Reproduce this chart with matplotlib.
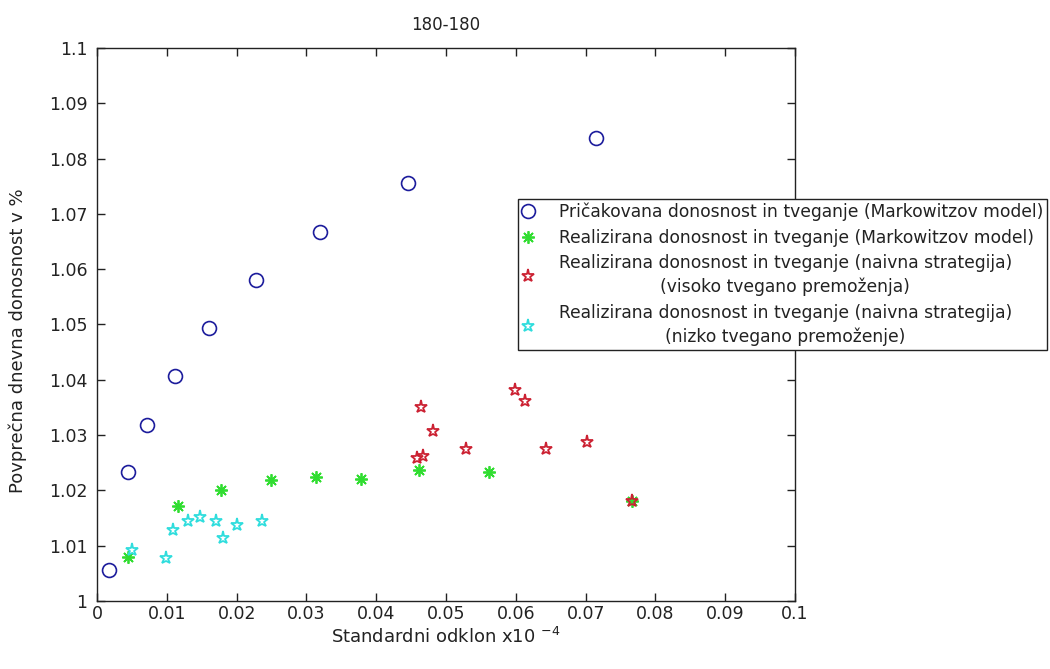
import matplotlib
matplotlib.use("Agg")
import matplotlib.pyplot as plt

plt.rcParams['font.family'] = ['DejaVu Sans']

# Expected return / risk (Markowitz model)
exp_x = [0.0017, 0.0045, 0.0072, 0.0112, 0.0161, 0.0228, 0.0319, 0.0446, 0.0715]
exp_y = [1.0056, 1.0233, 1.0319, 1.0407, 1.0493, 1.0580, 1.0667, 1.0755, 1.0838]

# Realised return / risk (Markowitz model)
real_x = [0.0044, 0.0116, 0.0178, 0.0249, 0.0314, 0.0378, 0.0461, 0.0562, 0.0766]
real_y = [1.0079, 1.0171, 1.0200, 1.0218, 1.0224, 1.0221, 1.0237, 1.0233, 1.0180]

# Naive strategy, high-risk assets
high_x = [0.0464, 0.0482, 0.0459, 0.0467, 0.0529, 0.0599, 0.0613, 0.0643, 0.0702, 0.0767]
high_y = [1.0351, 1.0308, 1.0259, 1.0262, 1.0275, 1.0382, 1.0362, 1.0275, 1.0288, 1.0180]

# Naive strategy, low-risk assets
low_x = [0.0050, 0.0099, 0.0109, 0.0130, 0.0148, 0.0171, 0.0180, 0.0201, 0.0236]
low_y = [1.0092, 1.0078, 1.0128, 1.0145, 1.0151, 1.0145, 1.0113, 1.0137, 1.0144]

labels = [
    "Pričakovana donosnost in tveganje (Markowitzov model)",
    "Realizirana donosnost in tveganje (Markowitzov model)",
    "Realizirana donosnost in tveganje (naivna strategija)\n(visoko tvegano premoženja)",
    "Realizirana donosnost in tveganje (naivna strategija)\n(nizko tvegano premoženje)",
]

x_ticks = [0, 0.01, 0.02, 0.03, 0.04, 0.05, 0.06, 0.07, 0.08, 0.09, 0.1]
x_ticklabels = ["0", "0.01", "0.02", "0.03", "0.04", "0.05", "0.06", "0.07", "0.08", "0.09", "0.1"]
y_ticks = [1, 1.01, 1.02, 1.03, 1.04, 1.05, 1.06, 1.07, 1.08, 1.09, 1.1]
y_ticklabels = ["1", "1.01", "1.02", "1.03", "1.04", "1.05", "1.06", "1.07", "1.08", "1.09", "1.1"]

fig = plt.figure(figsize=(10.5, 6.69), dpi=100)
ax = fig.add_axes([0.0924, 0.1017, 0.6648, 0.8266])

ax.plot(exp_x, exp_y, linestyle='none', marker='o', markersize=10,
        markerfacecolor='none', markeredgecolor='#1c1c9c', markeredgewidth=1.2,
        label=labels[0])
ax.plot(real_x, real_y, linestyle='none', marker=(8, 2, 0), markersize=9,
        markeredgecolor='#30dd30', markeredgewidth=1.3, color='#30dd30',
        label=labels[1])
ax.plot(high_x, high_y, linestyle='none', marker='*', markersize=9.5,
        markerfacecolor='none', markeredgecolor='#cc2233', markeredgewidth=1.3,
        label=labels[2])
ax.plot(low_x, low_y, linestyle='none', marker='*', markersize=9.5,
        markerfacecolor='none', markeredgecolor='#30dddd', markeredgewidth=1.3,
        label=labels[3])

ax.set_xlim(0, 0.1)
ax.set_ylim(1, 1.1)
ax.set_xticks(x_ticks)
ax.set_xticklabels(x_ticklabels)
ax.set_yticks(y_ticks)
ax.set_yticklabels(y_ticklabels)
ax.tick_params(direction='in', top=True, right=True, length=6, width=1,
               labelsize=12.5, colors='#222222')
ax.tick_params(axis='x', pad=3)
ax.tick_params(axis='y', pad=7)
for sp in ax.spines.values():
    sp.set_linewidth(1.0)
    sp.set_color('#222222')

ax.set_title("180-180", fontsize=12, pad=13, color='#222222')
ax.set_xlabel("Standardni odklon x10 $^{-4}$", fontsize=13, labelpad=3, color='#222222')
ylab = ax.set_ylabel("Povprečna dnevna donosnost v %", fontsize=13, color='#222222')
ylab.set_va('center')
ax.yaxis.set_label_coords(-0.113, 0.47)

leg = fig.legend(loc='upper left', bbox_to_anchor=(0.4933, 0.703),
                 bbox_transform=fig.transFigure, fontsize=12.3,
                 frameon=True, fancybox=False, framealpha=1,
                 edgecolor='#222222', handlelength=0.63, handletextpad=1.5,
                 borderpad=0.25, labelspacing=0.42, borderaxespad=0)
leg.get_frame().set_linewidth(1.0)
for t in leg.get_texts():
    t.set_multialignment('center')
    t.set_linespacing(1.42)
    t.set_color('#222222')

fig.savefig("out.png", dpi=100)
